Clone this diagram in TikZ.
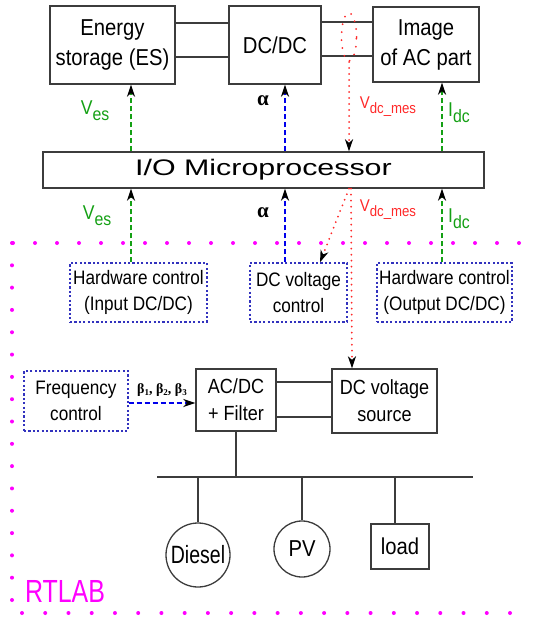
\documentclass[tikz,border=0pt]{standalone}
\usepackage{fontspec}
\setmainfont{Liberation Sans}
\newfontfamily\cond[FakeStretch=0.88]{Liberation Sans}
\newfontfamily\narr[FakeStretch=0.78]{Liberation Sans}
\newfontfamily\wide[FakeStretch=1.35]{Liberation Sans}
\newfontfamily\grk{Liberation Serif}
\usetikzlibrary{arrows.meta,shapes.geometric}
\definecolor{mygreen}{RGB}{20,160,20}
\definecolor{myblue}{RGB}{0,0,235}
\definecolor{myred}{RGB}{255,40,40}
\definecolor{boxblue}{RGB}{50,50,190}
\definecolor{mymag}{RGB}{255,0,255}
\definecolor{boxgray}{RGB}{60,60,60}
\newcommand\bsub[1]{\raisebox{-2.5pt}{\fontsize{9}{9}\selectfont #1}}
\tikzset{
  blk/.style={draw=boxgray, line width=1.3pt, rectangle, inner sep=0pt, align=center,
    font=\cond\fontsize{23}{30}\selectfont},
  blksm/.style={blk, font=\cond\fontsize{20.5}{27}\selectfont},
  ctl/.style={draw=boxblue, line width=1.4pt, dash pattern=on 2.2pt off 2.2pt, rectangle,
    inner sep=0pt, align=center, font=\cond\fontsize{19.5}{26}\selectfont},
  tipk/.style={-{Stealth[color=black,fill=black,length=12pt,width=8pt,inset=3.5pt]}},
  gline/.style={tipk, draw=mygreen, line width=1.8pt, dash pattern=on 5pt off 3pt},
  bline/.style={tipk, draw=myblue, line width=1.8pt, dash pattern=on 5pt off 3pt},
  rline/.style={tipk, draw=myred, line width=2pt, dash pattern=on 0pt off 6pt, line cap=round},
  wire/.style={draw=boxgray, line width=1.3pt},
  magdot/.style={draw=mymag, line width=4pt, line cap=round},
  lab/.style={inner sep=0pt, font=\cond},
}
\begin{document}
\begin{tikzpicture}[x=1pt,y=-1pt]
\useasboundingbox (0,0) rectangle (536,617);
% top blocks
\node[blk, minimum width=125pt, minimum height=78pt] (es) at (112.5,45) {Energy\\storage (ES)};
\node[blk, minimum width=92pt, minimum height=78pt] (dcdc) at (275,45) {DC/DC};
\node[blk, minimum width=106pt, minimum height=75pt] (img) at (426,44.5) {Image\\of AC part};
\draw[wire] ([yshift=22pt]es.east) -- ([yshift=22pt]es.east -| dcdc.west);
\draw[wire] ([yshift=-12pt]es.east) -- ([yshift=-12pt]es.east -| dcdc.west);
\draw[wire] ([yshift=22.5pt]img.west -| dcdc.east) -- ([yshift=22.5pt]img.west);
\draw[wire] ([yshift=-11.5pt]img.west -| dcdc.east) -- ([yshift=-11.5pt]img.west);
\node[ellipse, draw=myred, line width=2pt, dash pattern=on 0pt off 8pt, line cap=round,
  minimum width=15pt, minimum height=48pt, inner sep=0pt] (probe) at (349,37) {};
% microprocessor
\node[draw=boxgray, line width=1.3pt, rectangle, minimum width=441pt, minimum height=36pt,
  inner sep=0pt, font=\wide\fontsize{22.5}{22.5}\selectfont] (mp) at (263.5,170) {I/O Microprocessor};
% control boxes
\node[ctl, minimum width=137pt, minimum height=59pt] (hw1) at (138.5,292.5) {Hardware control\\(Input DC/DC)};
\node[ctl, minimum width=97pt, minimum height=59pt] (dcv) at (298.5,292.5) {DC voltage\\control};
\node[ctl, minimum width=135pt, minimum height=59pt] (hw2) at (444.5,292.5) {Hardware control\\(Output DC/DC)};
% vertical arrows
\draw[gline] ([xshift=-7.5pt]hw1.north) -- ([xshift=-7.5pt]hw1.north |- mp.south);
\draw[gline] ([xshift=-7.5pt]hw1.north |- mp.north) -- ([xshift=-7.5pt]hw1.north |- es.south);
\draw[bline] ([xshift=-13.5pt]dcv.north) -- ([xshift=-13.5pt]dcv.north |- mp.south);
\draw[bline] ([xshift=-13.5pt]dcv.north |- mp.north) -- ([xshift=-13.5pt]dcv.north |- dcdc.south);
\draw[gline] ([xshift=-2.5pt]hw2.north) -- ([xshift=-2.5pt]hw2.north |- mp.south);
\draw[gline] ([xshift=-2.5pt]hw2.north |- mp.north) -- ([xshift=-2.5pt]hw2.north |- img.south);
\draw[rline] (probe.south) -- (probe.south |- mp.north);
% labels
\node[lab, text=mygreen] (ves1) at (95,111) {\fontsize{20}{20}\selectfont V\raisebox{-6pt}{\fontsize{18}{18}\selectfont es}};
\node[lab, text=mygreen] (ves2) at (97,216) {\fontsize{20}{20}\selectfont V\raisebox{-6pt}{\fontsize{18}{18}\selectfont es}};
\node[lab, font=\grk\bfseries\fontsize{21}{21}\selectfont] (al1) at (263,101) {α};
\node[lab, font=\grk\bfseries\fontsize{21}{21}\selectfont] (al2) at (263,213) {α};
\node[lab, text=myred] (vdc1) at (388,107) {\fontsize{17}{17}\selectfont V\raisebox{-5pt}{\fontsize{15}{15}\selectfont dc\_mes}};
\node[lab, text=myred] (vdc2) at (388,210) {\fontsize{17}{17}\selectfont V\raisebox{-5pt}{\fontsize{15}{15}\selectfont dc\_mes}};
\node[lab, text=mygreen] (idc1) at (459,113) {\fontsize{20}{20}\selectfont I\raisebox{-6pt}{\fontsize{18}{18}\selectfont dc}};
\node[lab, text=mygreen] (idc2) at (459,219) {\fontsize{20}{20}\selectfont I\raisebox{-6pt}{\fontsize{18}{18}\selectfont dc}};
% lower blocks
\node[ctl, minimum width=104pt, minimum height=60pt] (freq) at (76,401) {Frequency\\control};
\node[blksm, minimum width=80pt, minimum height=62pt] (acdc) at (236,400) {AC/DC\\+ Filter};
\node[blksm, minimum width=105pt, minimum height=64pt] (dcs) at (384.5,401) {DC voltage\\source};
\draw[wire] ([yshift=18pt]acdc.east) -- ([yshift=18pt]acdc.east -| dcs.west);
\draw[wire] ([yshift=-17pt]acdc.east) -- ([yshift=-17pt]acdc.east -| dcs.west);
\draw[rline] ([xshift=85.5pt]mp.south) -- ([xshift=21.5pt]dcv.north);
\draw[rline] ([xshift=87.5pt]mp.south) -- ([xshift=-32.5pt]dcs.north);
\draw[bline] ([yshift=-2pt]freq.east) -- ([yshift=-2pt]freq.east -| acdc.west);
\node[lab, font=\grk\bfseries\fontsize{14}{14}\selectfont] (beta) at (162,390) {β\bsub{1}, β\bsub{2}, β\bsub{3}};
% bus
\coordinate (busL) at (157,477);
\coordinate (busR) at (473,477);
\draw[wire] (busL) -- (busR);
\draw[wire] (acdc.south) -- (acdc.south |- busL);
\node[circle, draw=boxgray, line width=1.3pt, minimum size=64pt, inner sep=0pt,
  font=\narr\fontsize{25}{25}\selectfont] (diesel) at (198,555) {Diesel};
\node[circle, draw=boxgray, line width=1.3pt, minimum size=56pt, inner sep=0pt,
  font=\cond\fontsize{23}{23}\selectfont] (pv) at (302,549) {PV};
\node[blk, minimum width=58pt, minimum height=45pt] (load) at (400,546.5) {load};
\draw[wire] (diesel.north |- busL) -- (diesel.north);
\draw[wire] (pv.north |- busL) -- (pv.north);
\draw[wire] ([xshift=-5pt]load.north |- busL) -- ([xshift=-5pt]load.north);
% RTLAB region
\draw[magdot, dash pattern=on 0pt off 22pt] (13,243) -- (519,243);
\draw[magdot, dash pattern=on 0pt off 22.3125pt] (12,243) -- (12,600);
\draw[magdot, dash pattern=on 0pt off 23.238pt] (22,613) -- (510,613);
\node[lab, text=mymag, font=\narr\fontsize{32}{32}\selectfont] (rtlab) at (65,591) {RTLAB};
\end{tikzpicture}
\end{document}
